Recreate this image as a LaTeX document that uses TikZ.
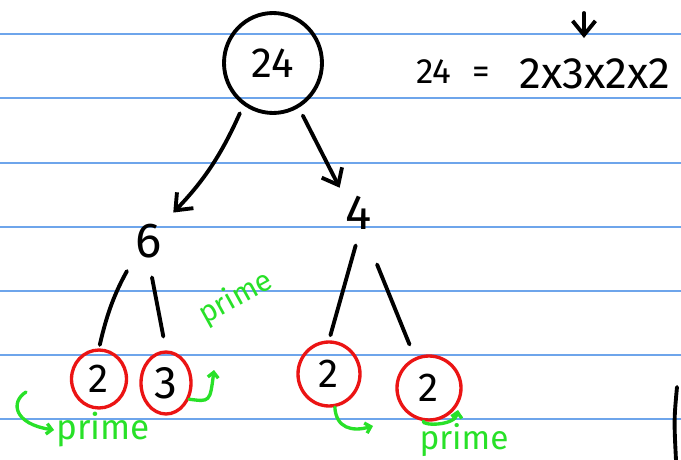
\documentclass[tikz,border=0pt]{standalone}
\usepackage{fontspec}
\setmainfont{Fira Sans}
\usepackage{tikz}
\usetikzlibrary{arrows.meta, shapes.geometric}
\definecolor{ruleblue}{RGB}{110,165,235}
\definecolor{penred}{RGB}{235,20,20}
\definecolor{pengreen}{RGB}{40,225,40}
\tikzset{
  ruleline/.style={draw=ruleblue, line width=1pt},
  rootbox/.style={ellipse, draw=black, line width=2.2pt, minimum width=1.96cm,
                  minimum height=2cm, inner sep=0pt, font=\fontsize{24}{24}\selectfont},
  factorbox/.style={font=\fontsize{28}{28}\selectfont, inner sep=2pt},
  primebox/.style={ellipse, draw=penred, line width=1.9pt, minimum width=1.1cm,
                   minimum height=1.16cm, inner sep=0pt, font=\fontsize{23}{23}\selectfont},
  eqbox/.style={font=\fontsize{#1}{#1}\selectfont, anchor=base, inner sep=0pt},
  notebox/.style={text=pengreen, font=\fontsize{#1}{#1}\selectfont, inner sep=1pt},
  treearrow/.style={-{Straight Barb[length=8pt, width=13pt]}, line width=2.2pt, line cap=round},
  treeline/.style={line width=2.2pt, line cap=round},
  notearrow/.style={draw=pengreen, line width=1.9pt, line cap=round,
                    -{Straight Barb[length=3pt, width=6pt]}},
}

\begin{document}
\begin{tikzpicture}[x=0.02cm, y=-0.02cm]
  \fill[white] (0,0) rectangle (681,460);
  \useasboundingbox (0,0) rectangle (681,460);
  \foreach \y in {34,98,163,227,291,355,419}
    \draw[ruleline] (0,\y) -- (681,\y);

  \node[rootbox] (root) at (273,63) {24};
  \node[factorbox] (six) at (149,241) {6};
  \node[factorbox] (four) at (359,213) {4};
  \node[primebox] (twoa) at (99,379) {2};
  \node[primebox, minimum width=1cm, minimum height=1.24cm, font=\fontsize{26}{26}\selectfont] (three) at (166,383) {3};
  \node[primebox, minimum width=1.24cm, minimum height=1.28cm] (twob) at (329,374) {2};
  \node[primebox, minimum width=1.28cm, minimum height=1.28cm] (twoc) at (429,388) {2};

  \node[eqbox=20] (eqleft) at (453,83) {24\hspace{0.6em}=};
  \node[eqbox=25] (eqright) at (595,88) {2x3x2x2};
  \coordinate (tickTop) at (584,13);
  \coordinate (tickBot) at (584,38);

  \node[notebox=17, rotate=29] (primeup) at (236,298) {prime};
  \node[notebox=20] (primeleft) at (103,430) {prime};
  \node[notebox=19] (primeright) at (464,440) {prime};
  \coordinate (hookLeft) at (26,392);
  \coordinate (tipThree) at (214,370);
  \coordinate (hookB) at (373,426);
  \coordinate (hookC) at (458,410);

  \draw[treearrow, shorten <=5pt, shorten >=6pt] (root.235) to[bend left=10] (six.north east);
  \draw[treearrow, shorten <=5pt, shorten >=3pt] (root.-60) -- (four.north west);
  \draw[treearrow] (tickTop) -- (tickBot);
  \draw[treeline, shorten <=6pt, shorten >=2pt] (six.south west) to[bend right=8] (twoa.north);
  \draw[treeline, shorten <=9pt, shorten >=8pt] (six.south) -- (three.north);
  \draw[treeline, shorten <=7pt, shorten >=3pt] (four.south) -- (twob.north);
  \draw[treeline, shorten <=19pt, shorten >=8pt] (four.-75) -- (twoc.115);

  \draw[notearrow] (hookLeft) .. controls (10,402) and (14,424) .. (primeleft.west);
  \draw[notearrow] (three.-35) .. controls (210,402) .. (tipThree);
  \draw[notearrow] (twob.-80) .. controls (336,428) and (352,432) .. (hookB);
  \draw[notearrow] (twoc.-100) .. controls (422,426) and (455,426) .. (hookC);

  \draw[treeline] (677,387) .. controls (674,420) .. (676,460);
\end{tikzpicture}
\end{document}
